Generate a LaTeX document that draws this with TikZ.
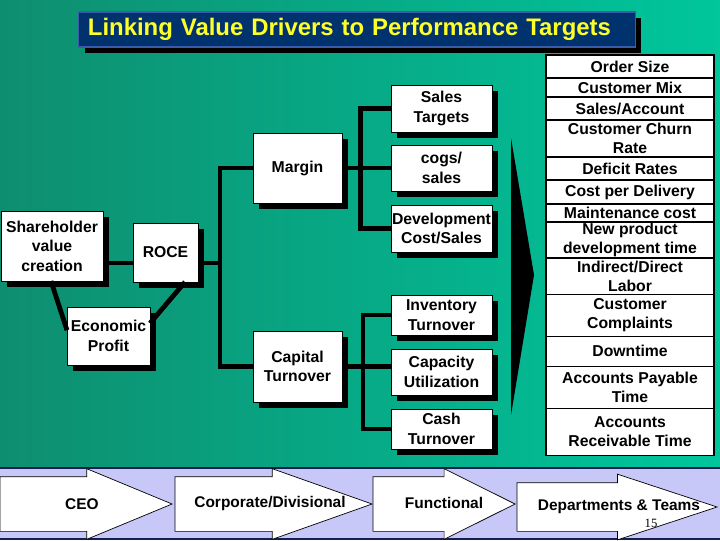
\documentclass[tikz,border=0pt]{standalone}
\usepackage{fontspec}
\setmainfont{Liberation Sans}
\newfontfamily\pgnumfont{Liberation Serif}
\usetikzlibrary{positioning,calc,shadows,shapes.arrows}
\definecolor{bgdark}{RGB}{14,142,112}
\definecolor{bglight}{RGB}{0,198,156}
\definecolor{titlebg}{RGB}{0,50,110}
\definecolor{titleedge}{RGB}{60,90,170}
\definecolor{titletxt}{RGB}{255,255,40}
\definecolor{stripbg}{RGB}{200,200,248}
\definecolor{stripedge}{RGB}{20,30,80}
\tikzset{
  blk/.style={draw=black,fill=white,line width=0.6pt,inner sep=0pt,outer sep=0pt,align=center,
    font=\bfseries\fontsize{11.2}{13.8}\selectfont,
    drop shadow={shadow xshift=0.15cm,shadow yshift=-0.15cm,fill=black,opacity=1}},
  ttl/.style={draw=titleedge,fill=titlebg,text=titletxt,line width=0.8pt,minimum height=0.875cm,
    text width=13.45cm,inner xsep=0.225cm,align=left,font=\bfseries\fontsize{17}{20}\selectfont,
    drop shadow={shadow xshift=0.15cm,shadow yshift=-0.15cm,fill=black,opacity=1}},
  cell/.style={draw=black,fill=white,line width=0.8pt,inner sep=0pt,outer sep=0pt,align=center,
    minimum width=4.2cm,font=\bfseries\fontsize{11.2}{13.5}\selectfont},
  wire/.style={line width=3.4pt,black},
  lvl/.style={single arrow,draw=black,fill=white,line width=0.5pt,outer sep=0pt,anchor=tail,
    inner xsep=0pt,text height=0.3cm,text depth=0.1cm,inner ysep=0.475cm,
    single arrow head extend=0.2cm},
  lvltxt/.style={inner sep=0pt,font=\bfseries\fontsize{11}{13}\selectfont}
}
\begin{document}
\begin{tikzpicture}[x=0.025cm,y=-0.025cm]
  \useasboundingbox (0,0) rectangle (720,540);
  % Background
  \shade[left color=bgdark,right color=bglight] (0,0) rectangle (720,468);

  % Title
  \node[ttl] (title) at (357,29.5) {Linking Value Drivers to Performance Targets};

  % Value drivers
  \node[blk,minimum width=2.55cm,minimum height=1.75cm] (share) at (52,246) {Shareholder\\value\\creation};
  \node[blk,minimum width=1.625cm,minimum height=1.475cm] (roce) at (165.5,252.5) {ROCE};
  \node[blk,minimum width=2.075cm,minimum height=1.45cm] (econ) at (108.5,336) {Economic\\Profit};
  \node[blk,minimum width=2.225cm,minimum height=1.75cm] (margin) at (297.5,168) {Margin};
  \node[blk,minimum width=2.225cm,minimum height=1.775cm] (captov) at (297.5,366.5) {Capital\\Turnover};

  % Second level drivers
  \node[blk,minimum width=2.525cm,minimum height=1.175cm] (sales) at (441.5,108.5) {Sales\\Targets};
  \node[blk,minimum width=2.525cm,minimum height=1.15cm] (cogs) at (441.5,168) {cogs/\\sales};
  \node[blk,minimum width=2.525cm,minimum height=1.175cm] (devcost) at (441.5,228.5) {Development\\Cost/Sales};
  \node[blk,minimum width=2.525cm,minimum height=1.0cm] (invtov) at (441.5,315) {Inventory\\Turnover};
  \node[blk,minimum width=2.525cm,minimum height=1.15cm] (capuse) at (441.5,372) {Capacity\\Utilization};
  \node[blk,minimum width=2.525cm,minimum height=1.0cm] (cashtov) at (441.5,429) {Cash\\Turnover};

  % Connections
  \coordinate (roceline) at (0,263);
  \coordinate (mainbus) at (220,263);
  \draw[wire] (share.east |- roceline) -- (roce.west |- roceline);
  \draw[wire] (roce.east |- roceline) -- (mainbus);
  \draw[wire] (margin.west) -| (mainbus) |- (captov.west);
  \draw[wire] ($(share.south west)!0.49!(share.south east)$) -- ($(econ.north west)!0.4!(econ.south west)$);
  \draw[wire] ($(roce.south west)!0.8!(roce.south east)$) -- ($(econ.north east)!0.28!(econ.south east)$);

  \coordinate (mbus) at ($(margin.east)!0.37!(cogs.west)$);
  \draw[wire] (margin.east) -- (cogs.west);
  \draw[wire] (sales.west) -| (mbus) |- (devcost.west);

  \coordinate (cbus) at ($(captov.east)!0.43!(captov.east -| capuse.west)$);
  \draw[wire] (captov.east) -- (captov.east -| capuse.west);
  \draw[wire] (invtov.west) -| (cbus) |- (cashtov.west);

  % Big arrow
  \fill[black] (511,138) -- (534,275) -- (511,415) -- cycle;

  % Performance targets
  \node[cell,minimum height=0.575cm] (t1) at (630,66.5) {Order Size};
  \node[cell,minimum height=0.475cm,below=0pt of t1] (t2) {Customer Mix};
  \node[cell,minimum height=0.575cm,below=0pt of t2] (t3) {Sales/Account};
  \node[cell,minimum height=0.925cm,below=0pt of t3] (t4) {Customer Churn\\Rate};
  \node[cell,minimum height=0.575cm,below=0pt of t4] (t5) {Deficit Rates};
  \node[cell,minimum height=0.6cm,below=0pt of t5] (t6) {Cost per Delivery};
  \node[cell,minimum height=0.45cm,below=0pt of t6] (t7) {Maintenance cost};
  \node[cell,minimum height=0.9cm,below=0pt of t7] (t8) {New product\\development time};
  \node[cell,minimum height=0.9cm,below=0pt of t8] (t9) {Indirect/Direct\\Labor};
  \node[cell,minimum height=1.05cm,below=0pt of t9] (t10) {Customer\\Complaints};
  \node[cell,minimum height=0.75cm,below=0pt of t10] (t11) {Downtime};
  \node[cell,minimum height=1.05cm,below=0pt of t11] (t12) {Accounts Payable\\Time};
  \node[cell,minimum height=1.175cm,below=0pt of t12] (t13) {Accounts\\Receivable Time};

  % Levels strip
  \draw[stripedge,line width=1.5pt,fill=stripbg] (-2,468) rectangle (722,539);
  \node[lvl,minimum height=4.3cm,single arrow tip angle=45] (ceo) at (0,504) {};
  \node[lvl,minimum height=4.925cm,single arrow tip angle=39] (corp) at (175,504) {};
  \node[lvl,minimum height=3.55cm,single arrow tip angle=53] (func) at (373,504) {};
  \node[lvl,minimum height=5.0cm,single arrow tip angle=36.5,inner ysep=0.4cm,single arrow head extend=0.2125cm] (dept) at (517,507) {};
  \node[lvltxt] (ceotxt) at (82,504) {CEO};
  \node[lvltxt] (corptxt) at (270,503) {Corporate/Divisional};
  \node[lvltxt] (functxt) at (444,503) {Functional};
  \node[lvltxt] (depttxt) at (619,507) {Departments \& Teams};
  \node[font=\pgnumfont\fontsize{9}{9}\selectfont] (pgnum) at (651,523) {15};
\end{tikzpicture}
\end{document}
